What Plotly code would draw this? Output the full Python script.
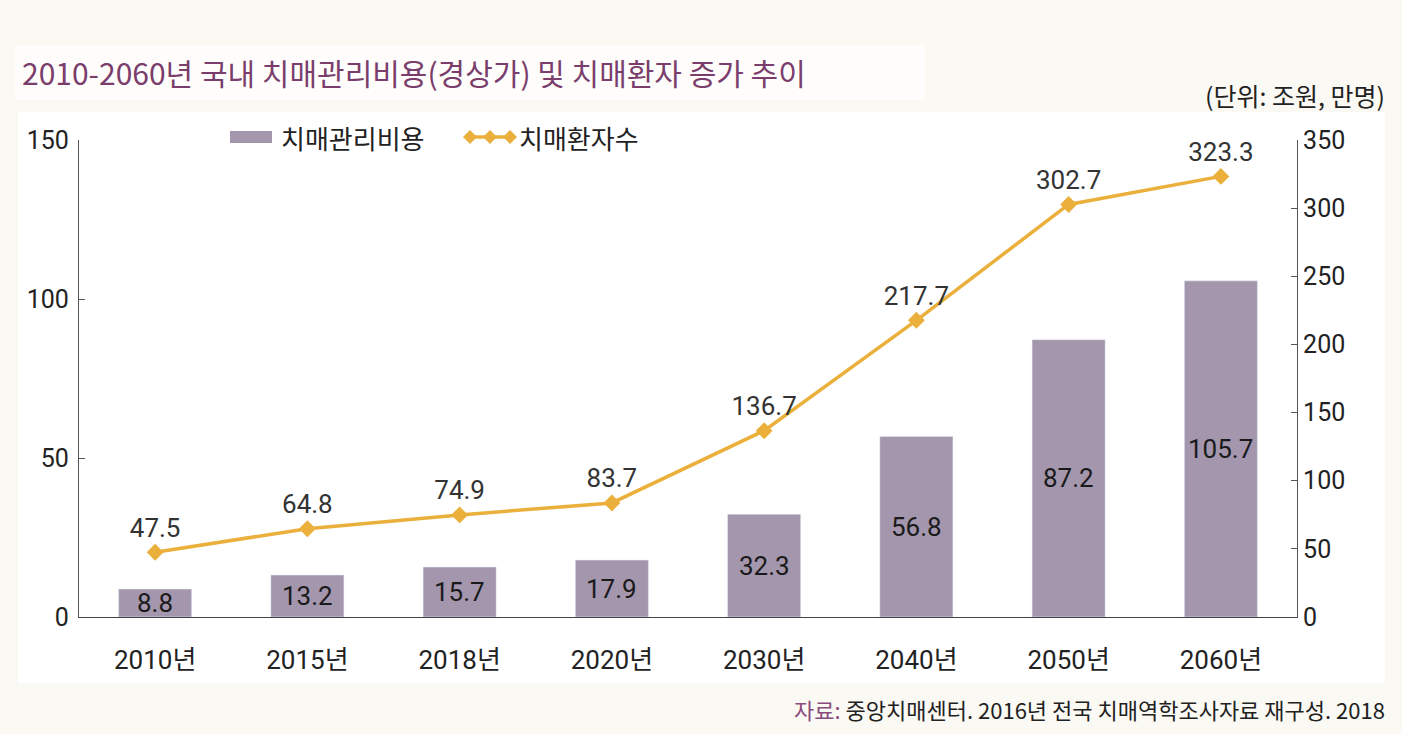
import plotly.graph_objects as go

years = ["2010년", "2015년", "2018년", "2020년", "2030년", "2040년", "2050년", "2060년"]
cost = [8.8, 13.2, 15.7, 17.9, 32.3, 56.8, 87.2, 105.7]
patients = [47.5, 64.8, 74.9, 83.7, 136.7, 217.7, 302.7, 323.3]
left_ticks = [0, 50, 100, 150]
right_ticks = [0, 50, 100, 150, 200, 250, 300, 350]
legend_names = ["치매관리비용", "치매환자수"]

FONT = "Roboto, 'Noto Sans CJK KR', sans-serif"
KFONT = "'Noto Sans CJK KR', sans-serif"
BAR_C = "#A396AD"
LINE_C = "#EBB03B"
BG = "#FBF9F4"

fig = go.Figure()
fig.add_trace(go.Bar(
    x=years, y=cost, name=legend_names[0], marker_color=BAR_C, width=0.48,
    yaxis="y", showlegend=False,
))
fig.add_trace(go.Scatter(
    x=years, y=patients, name=legend_names[1], mode="lines+markers+text",
    line=dict(color=LINE_C, width=3.5),
    marker=dict(symbol="diamond", size=13, color=LINE_C),
    text=[f"{v:.1f}" for v in patients], textposition="top center",
    textfont=dict(size=26, color="#333333", family=FONT),
    yaxis="y2", showlegend=False,
))

def px_x(p):
    return (p - 79) / 1218

def px_y(p):
    return (617 - p) / 477

annotations = []
for yr, v in zip(years, cost):
    annotations.append(dict(x=yr, y=max(v / 2, 4.0), xref="x", yref="y", text=f"{v:.1f}",
                            showarrow=False, font=dict(size=26, color="#1a1a1a", family=FONT),
                            yanchor="middle"))

annotations.append(dict(x=px_x(20), y=px_y(72), xref="paper", yref="paper", xanchor="left",
                        yanchor="middle", showarrow=False,
                        text="2010-2060년 국내 치매관리비용(경상가) 및 치매환자 증가 추이",
                        font=dict(size=30, color="#7A3D6C", family=KFONT)))
annotations.append(dict(x=px_x(1387), y=px_y(95), xref="paper", yref="paper", xanchor="right",
                        yanchor="middle", showarrow=False, text="(단위: 조원, 만명)",
                        font=dict(size=25, color="#222222", family=KFONT)))
annotations.append(dict(x=px_x(1387), y=px_y(709), xref="paper", yref="paper", xanchor="right",
                        yanchor="middle", showarrow=False,
                        text="<span style='color:#8A4A7C'>자료:</span> 중앙치매센터. 2016년 전국 치매역학조사자료 재구성. 2018",
                        font=dict(size=22, color="#222222", family=KFONT)))
# manual legend labels
annotations.append(dict(x=px_x(279), y=px_y(137), xref="paper", yref="paper", xanchor="left",
                        yanchor="middle", showarrow=False, text=legend_names[0],
                        font=dict(size=26, color="#222222", family=KFONT)))
annotations.append(dict(x=px_x(517), y=px_y(137), xref="paper", yref="paper", xanchor="left",
                        yanchor="middle", showarrow=False, text=legend_names[1],
                        font=dict(size=26, color="#222222", family=KFONT)))

def diamond(cx, cy, r=7):
    return (f"M {px_x(cx - r)} {px_y(cy)} L {px_x(cx)} {px_y(cy - r)} "
            f"L {px_x(cx + r)} {px_y(cy)} L {px_x(cx)} {px_y(cy + r)} Z")

shapes = [
    dict(type="rect", xref="paper", yref="paper", x0=px_x(18), x1=px_x(1385), y0=px_y(683), y1=px_y(112),
         fillcolor="white", line_width=0, layer="below"),
    dict(type="rect", xref="paper", yref="paper", x0=px_x(15), x1=px_x(925), y0=px_y(100), y1=px_y(45),
         fillcolor="#FEFDFB", line_width=0, layer="below"),
    # legend swatches
    dict(type="rect", xref="paper", yref="paper", x0=px_x(230), x1=px_x(272), y0=px_y(143), y1=px_y(131),
         fillcolor=BAR_C, line_width=0),
    dict(type="line", xref="paper", yref="paper", x0=px_x(467), x1=px_x(512), y0=px_y(137), y1=px_y(137),
         line=dict(color=LINE_C, width=3.5)),
]
for cx in (470, 490, 510):
    shapes.append(dict(type="path", xref="paper", yref="paper", path=diamond(cx, 137),
                       fillcolor=LINE_C, line_width=0))

fig.update_layout(
    width=1402, height=734,
    margin=dict(l=79, r=105, t=140, b=117),
    paper_bgcolor=BG, plot_bgcolor="white",
    font=dict(family=FONT, size=22, color="#222222"),
    showlegend=False,
    xaxis=dict(type="category", range=[-0.5, 7.5], showline=True, linecolor="#444444", linewidth=1.2,
               ticks="", tickfont=dict(size=26, family=FONT), showgrid=False, ticklabelstandoff=20),
    yaxis=dict(range=[0, 150], tickvals=left_ticks, showline=True, linecolor="#555555", linewidth=1.2,
               ticks="inside", ticklen=6, tickcolor="#555555", showgrid=False, zeroline=False,
               tickfont=dict(size=25, family=FONT), ticklabelstandoff=4),
    yaxis2=dict(range=[0, 350], tickvals=right_ticks, overlaying="y", side="right", showline=True,
                linecolor="#555555", linewidth=1.2, ticks="inside", ticklen=6, tickcolor="#555555",
                showgrid=False, zeroline=False, tickfont=dict(size=25, family=FONT)),
    annotations=annotations,
    shapes=shapes,
)

fig.write_html("out.html", config={"displayModeBar": False},
               post_script="document.body.style.margin='0';document.body.style.background='%s';" % BG)
